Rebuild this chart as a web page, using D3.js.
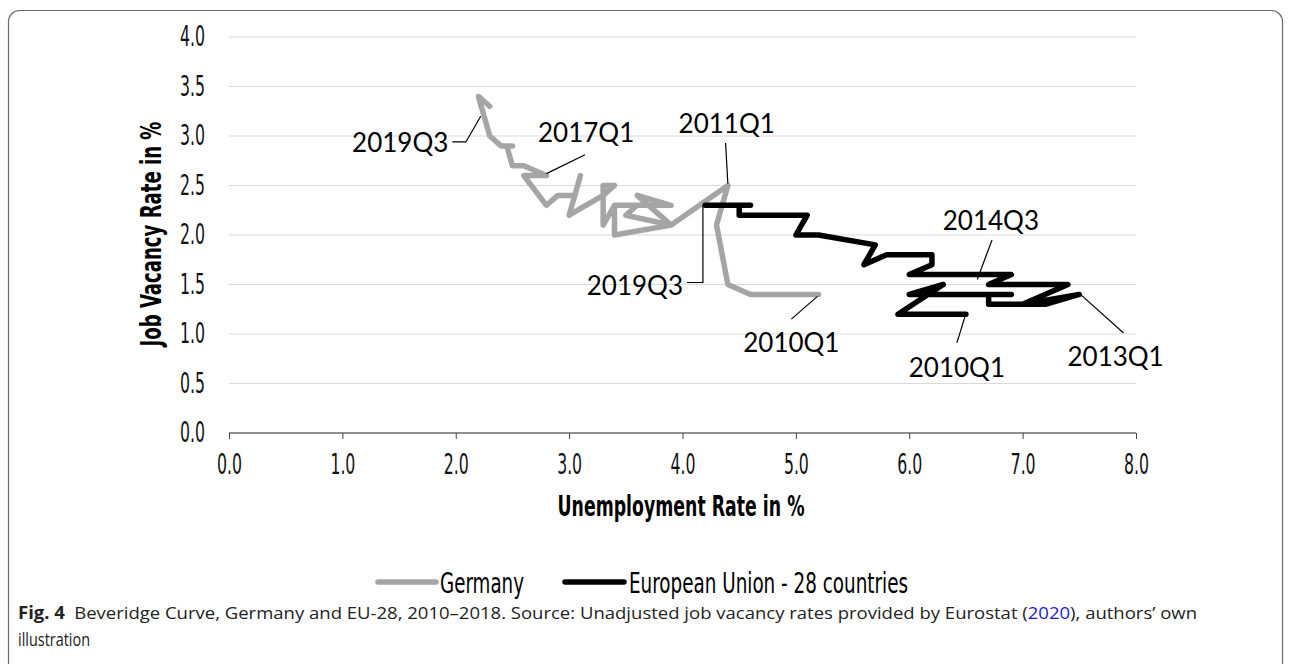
<!DOCTYPE html>
<html>
<head>
<meta charset="utf-8">
<script src="https://cdn.jsdelivr.net/npm/d3@7"></script>
<style>
  body { margin: 0; background: #fff; }
  .narrow { font-family: "Liberation Sans Narrow", "DejaVu Sans Condensed", "Liberation Sans", sans-serif; }
  .note { font-family: Lato, "Open Sans", sans-serif; font-size: 26px; fill: #000; }
</style>
</head>
<body>
<div id="chart"></div>
<script>
// values
var germanyUnemp  = [5.2, 4.6, 4.4, 4.3, 4.4, 3.9, 3.4, 3.4, 3.9, 3.6, 3.9, 3.5, 3.6, 3.4, 3.3, 3.3, 3.4, 3.3, 3.0, 3.1, 3.05, 2.9, 2.8, 2.6, 2.8, 2.6, 2.5, 2.45, 2.5, 2.4, 2.3, 2.2, 2.3];
var germanyVacancy = [1.4, 1.4, 1.5, 2.1, 2.5, 2.1, 2.0, 2.3, 2.3, 2.4, 2.1, 2.2, 2.3, 2.3, 2.1, 2.5, 2.5, 2.4, 2.2, 2.6, 2.4, 2.4, 2.3, 2.6, 2.6, 2.7, 2.7, 2.9, 2.9, 2.9, 3.0, 3.4, 3.3];
var euUnemp   = [6.5, 5.9, 6.3, 6.0, 6.9, 6.7, 6.7, 7.2, 7.5, 7.0, 7.4, 6.7, 6.9, 6.0, 6.2, 6.2, 5.8, 5.6, 5.7, 5.2, 5.0, 5.1, 4.5, 4.5, 4.6, 4.2];
var euVacancy = [1.2, 1.2, 1.5, 1.4, 1.4, 1.4, 1.3, 1.3, 1.4, 1.3, 1.5, 1.5, 1.6, 1.6, 1.7, 1.8, 1.8, 1.7, 1.9, 2.0, 2.0, 2.2, 2.2, 2.3, 2.3, 2.3];
var seriesNames = ["Germany", "European Union - 28 countries"];
var xTicks = [0, 1, 2, 3, 4, 5, 6, 7, 8];
var yTicks = [0, 0.5, 1, 1.5, 2, 2.5, 3, 3.5, 4];

// quarter labels: text, label centre, leader line (all in data units)
var notes = [
  {text: "2019Q3", at: [1.51, 2.93], leader: [[1.97, 2.94], [2.09, 2.94], [2.22, 3.2]]},
  {text: "2017Q1", at: [3.15, 3.03], leader: [[3.14, 2.81], [2.8, 2.62]]},
  {text: "2011Q1", at: [4.39, 3.12], leader: [[4.38, 2.93], [4.4, 2.52]]},
  {text: "2014Q3", at: [6.72, 2.15], leader: [[6.73, 1.95], [6.6, 1.55]]},
  {text: "2019Q3", at: [3.58, 1.49], leader: [[4.04, 1.52], [4.18, 1.52], [4.18, 2.3]]},
  {text: "2010Q1", at: [4.96, 0.91], leader: [[4.96, 1.15], [5.19, 1.38]]},
  {text: "2010Q1", at: [6.42, 0.66], leader: [[6.42, 0.91], [6.49, 1.17]]},
  {text: "2013Q1", at: [7.82, 0.77], leader: [[7.89, 1.01], [7.52, 1.39]]}
];

var svgWidth = 1290, svgHeight = 664;
var margin = {top: 37, right: 154, bottom: 231, left: 229};
var width = svgWidth - margin.left - margin.right;
var height = svgHeight - margin.top - margin.bottom;

var svgBG = d3.select("#chart").append("svg")
    .attr("width", svgWidth)
    .attr("height", svgHeight);

svgBG.append("rect")
    .attr("x", 8.5).attr("y", 10.5)
    .attr("width", 1274).attr("height", 720)
    .attr("rx", 11)
    .attr("fill", "none")
    .attr("stroke", "#6b6b6b")
    .attr("stroke-width", 1.2);

var svg = svgBG.append("g")
    .attr("transform", "translate(" + margin.left + "," + margin.top + ")");

var x = d3.scaleLinear().domain([0, 8]).range([0, width]);
var y = d3.scaleLinear().domain([0, 4]).range([height, 0]);

// gridlines
svg.append("g")
    .selectAll("line")
    .data(yTicks.filter(function(d) { return d > 0; }))
    .enter().append("line")
    .attr("x1", 0).attr("x2", width)
    .attr("y1", function(d) { return y(d); })
    .attr("y2", function(d) { return y(d); })
    .attr("stroke", "#d9d9d9")
    .attr("stroke-width", 1.2);

var yAxis = d3.axisLeft(y).tickValues(yTicks).tickSize(0).tickPadding(24)
    .tickFormat(d3.format(".1f"));
var yAxisSVG = svg.append("g").attr("class", "y axis narrow").call(yAxis);
yAxisSVG.select(".domain").remove();

var xAxis = d3.axisBottom(x).tickValues(xTicks).tickSize(6).tickPadding(15)
    .tickFormat(d3.format(".1f"));
var xAxisSVG = svg.append("g")
    .attr("class", "x axis narrow")
    .attr("transform", "translate(0," + height + ")")
    .call(xAxis);
xAxisSVG.select(".domain").attr("stroke", "#222").attr("stroke-width", 1.2).attr("d", "M0,0H" + width);
xAxisSVG.selectAll(".tick line").attr("stroke", "#444");

svgBG.selectAll(".axis text")
    .attr("font-family", null)
    .attr("textLength", 25)
    .attr("lengthAdjust", "spacingAndGlyphs")
    .style("font-size", "28px")
    .style("fill", "#111");

// axis titles
svgBG.append("text")
    .attr("class", "narrow")
    .attr("x", 681).attr("y", 516)
    .attr("text-anchor", "middle")
    .attr("textLength", 247)
    .attr("lengthAdjust", "spacingAndGlyphs")
    .style("font-size", "28px").style("font-weight", "bold")
    .text("Unemployment Rate in %");

svgBG.append("text")
    .attr("class", "narrow")
    .attr("transform", "translate(161,234) rotate(-90)")
    .attr("text-anchor", "middle")
    .attr("textLength", 225)
    .attr("lengthAdjust", "spacingAndGlyphs")
    .style("font-size", "28px").style("font-weight", "bold")
    .text("Job Vacancy Rate in %");

// series lines
var line = d3.line()
    .x(function(d) { return x(d[0]); })
    .y(function(d) { return y(d[1]); });

var germany = germanyUnemp.map(function(d, i) { return [d, germanyVacancy[i]]; });
var eu = euUnemp.map(function(d, i) { return [d, euVacancy[i]]; });

svg.append("path")
    .datum(germany)
    .attr("d", line)
    .attr("fill", "none")
    .attr("stroke", "#a5a5a5")
    .attr("stroke-width", 5.5)
    .attr("stroke-linejoin", "round")
    .attr("stroke-linecap", "round");

svg.append("path")
    .datum(eu)
    .attr("d", line)
    .attr("fill", "none")
    .attr("stroke", "#000")
    .attr("stroke-width", 5.5)
    .attr("stroke-linejoin", "round")
    .attr("stroke-linecap", "round");

// quarter labels
var noteG = svg.append("g");
noteG.selectAll("path")
    .data(notes)
    .enter().append("path")
    .attr("d", function(d) { return line(d.leader); })
    .attr("fill", "none")
    .attr("stroke", "#000")
    .attr("stroke-width", 1.2);
noteG.selectAll("text")
    .data(notes)
    .enter().append("text")
    .attr("class", "note")
    .attr("x", function(d) { return x(d.at[0]); })
    .attr("y", function(d) { return y(d.at[1]); })
    .attr("dy", "0.36em")
    .attr("text-anchor", "middle")
    .text(function(d) { return d.text; });

// legend
var legend = svgBG.append("g").attr("class", "narrow");
var legendItems = [
  {name: seriesNames[0], color: "#a5a5a5", x0: 378, x1: 436, tx: 440, tw: 84},
  {name: seriesNames[1], color: "#000", x0: 565, x1: 624, tx: 629, tw: 279}
];
legend.selectAll("line")
    .data(legendItems)
    .enter().append("line")
    .attr("x1", function(d) { return d.x0; })
    .attr("x2", function(d) { return d.x1; })
    .attr("y1", 582).attr("y2", 582)
    .attr("stroke", function(d) { return d.color; })
    .attr("stroke-width", 5.5)
    .attr("stroke-linecap", "round");
legend.selectAll("text")
    .data(legendItems)
    .enter().append("text")
    .attr("x", function(d) { return d.tx; })
    .attr("y", 593)
    .attr("textLength", function(d) { return d.tw; })
    .attr("lengthAdjust", "spacingAndGlyphs")
    .style("font-size", "28px")
    .text(function(d) { return d.name; });

// caption
var cap = svgBG.append("text")
    .attr("x", 18).attr("y", 619)
    .attr("textLength", 1179)
    .attr("lengthAdjust", "spacingAndGlyphs")
    .style("font-family", "'Open Sans', 'Noto Sans', sans-serif")
    .style("font-size", "17px")
    .style("fill", "#222");
cap.append("tspan").style("font-weight", "bold").text("Fig. 4");
cap.append("tspan").text("\u2002Beveridge Curve, Germany and EU-28, 2010\u20132018. Source: Unadjusted job vacancy rates provided by Eurostat (");
cap.append("tspan").style("fill", "#1a1ad6").text("2020");
cap.append("tspan").text("), authors\u2019 own");

svgBG.append("text")
    .attr("x", 18).attr("y", 646)
    .attr("textLength", 72)
    .attr("lengthAdjust", "spacingAndGlyphs")
    .style("font-family", "'Open Sans', 'Noto Sans', sans-serif")
    .style("font-size", "18px")
    .style("fill", "#222")
    .text("illustration");
</script>
</body>
</html>
